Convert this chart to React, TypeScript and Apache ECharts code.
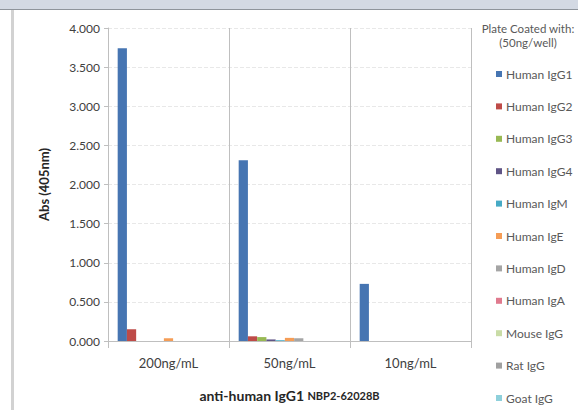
import React, { useEffect, useRef } from "react";
import * as echarts from "echarts";

const categories = ["200ng/mL", "50ng/mL", "10ng/mL"];
const seriesNames = [
  "Human IgG1", "Human IgG2", "Human IgG3", "Human IgG4", "Human IgM", "Human IgE",
  "Human IgD", "Human IgA", "Mouse IgG", "Rat IgG", "Goat IgG",
];
const seriesValues: number[][] = [
  [3.74, 2.31, 0.73],
  [0.15, 0.06, 0],
  [0, 0.05, 0],
  [0, 0.02, 0],
  [0, 0.01, 0],
  [0.035, 0.04, 0],
  [0, 0.035, 0],
  [0, 0, 0],
  [0, 0, 0],
  [0, 0, 0],
  [0, 0, 0],
];
const colors = [
  "#4675B2", "#BE4B48", "#98B954", "#5F5485", "#46AAC5", "#F59D56",
  "#A5A5A5", "#E07A8E", "#C9DCA6", "#A0A0A0", "#8ED0DB",
];
const yTicks = { min: 0, max: 4, interval: 0.5 };

export default function App() {
  const ref = useRef<HTMLDivElement>(null);
  useEffect(() => {
    document.body.style.margin = "0";
    const chart = echarts.init(ref.current!, null, { renderer: "svg" });
    const font = "Lato, 'Open Sans', sans-serif";
    chart.setOption({
      animation: false,
      backgroundColor: "#ffffff",
      textStyle: { fontFamily: font },
      grid: { left: 108, right: 107, top: 28, bottom: 69, containLabel: false },
      title: {
        text: "Plate Coated with:\n(50ng/well)",
        left: 523,
        top: 16,
        textAlign: "center",
        textStyle: { fontSize: 11.5, fontWeight: "normal", color: "#595959", lineHeight: 14, fontFamily: font },
      },
      legend: {
        orient: "vertical",
        left: 491,
        top: 63,
        itemWidth: 6,
        itemHeight: 6,
        itemGap: 20.4,
        icon: "rect",
        data: seriesNames,
        textStyle: { fontSize: 12, color: "#595959", lineHeight: 12, padding: [0, 0, 0, -1], fontFamily: font },
      },
      xAxis: {
        type: "category",
        data: categories,
        axisLine: { lineStyle: { color: "#BFBFBF" } },
        axisTick: { show: true, length: 7, lineStyle: { color: "#BFBFBF" } },
        splitLine: { show: true, lineStyle: { color: "#BFBFBF" } },
        axisLabel: { fontSize: 13, color: "#404040", margin: 15, fontFamily: font },
        name: "{a|anti-human IgG1 }{b|NBP2-62028B}",
        nameLocation: "middle",
        nameGap: 47,
        nameTextStyle: {
          rich: {
            a: { fontSize: 14, fontWeight: "bold", color: "#262626", fontFamily: font },
            b: { fontSize: 11, fontWeight: "bold", color: "#262626", fontFamily: font },
          },
        },
      },
      yAxis: {
        type: "value",
        min: yTicks.min,
        max: yTicks.max,
        interval: yTicks.interval,
        axisLine: { show: true, lineStyle: { color: "#BFBFBF" } },
        axisTick: { show: true, length: 4, lineStyle: { color: "#BFBFBF" } },
        splitLine: { show: true, lineStyle: { color: "#E8E8E8", type: "dashed" } },
        axisLabel: {
          fontSize: 12,
          color: "#404040",
          margin: 8,
          fontFamily: font,
          formatter: (v: number) => v.toFixed(3),
        },
        name: "Abs (405nm)",
        nameLocation: "middle",
        nameGap: 58,
        nameTextStyle: { fontSize: 13, fontWeight: "bold", color: "#262626", fontFamily: font },
      },
      graphic: [
        { type: "rect", shape: { x: 0, y: 0, width: 578, height: 9 }, style: { fill: "#D3D9E3" }, silent: true },
        { type: "line", shape: { x1: 0, y1: 9.5, x2: 578, y2: 9.5 }, style: { stroke: "#8E949B", lineWidth: 1 }, silent: true },
        { type: "rect", shape: { x: 11, y: 10, width: 3, height: 400 }, style: { fill: "#D2D2D2" }, silent: true },
      ],
      series: seriesNames.map((name, i) => ({
        name,
        type: "bar",
        data: seriesValues[i],
        barGap: "0%",
        barCategoryGap: "16%",
        itemStyle: { color: colors[i] },
      })),
    });
    return () => chart.dispose();
  }, []);
  return <div ref={ref} style={{ width: 578, height: 410 }} />;
}
